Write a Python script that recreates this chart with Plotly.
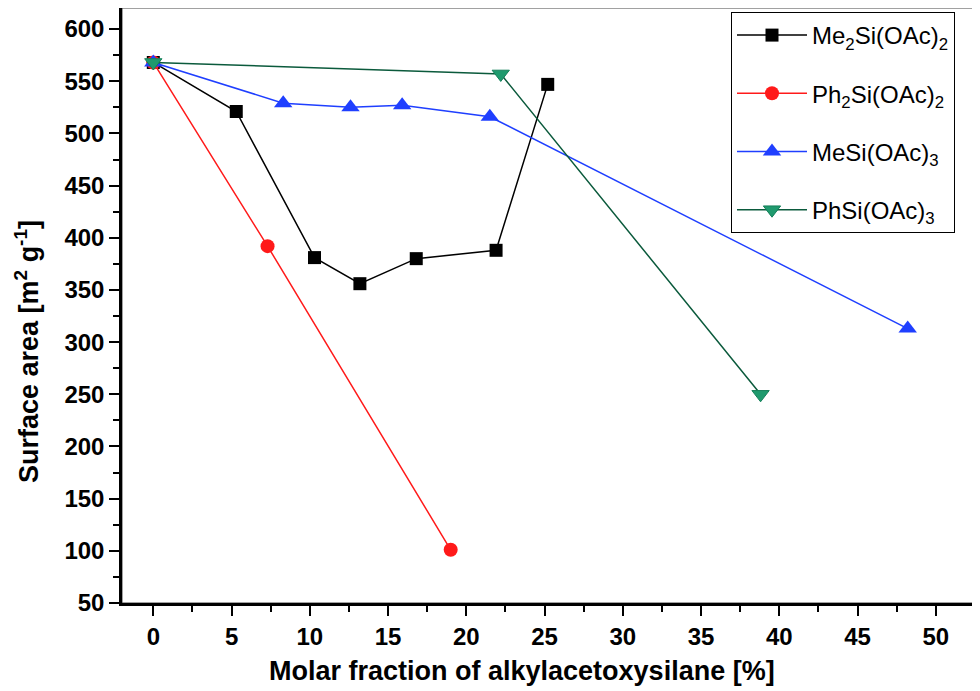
import plotly.graph_objects as go

# Surface area vs. molar fraction of alkylacetoxysilane
me2_x = [0, 5.3, 10.3, 13.2, 16.8, 21.9, 25.2]
me2_y = [568, 521, 381, 356, 380, 388, 547]

ph2_x = [0, 7.3, 19.0]
ph2_y = [568, 392, 101]

mesi_x = [0, 8.3, 12.6, 15.9, 21.5, 48.2]
mesi_y = [568, 529, 525, 527, 516, 313]

phsi_x = [0, 22.2, 38.8]
phsi_y = [568, 557, 250]

names = ["Me<sub>2</sub>Si(OAc)<sub>2</sub>", "Ph<sub>2</sub>Si(OAc)<sub>2</sub>",
         "MeSi(OAc)<sub>3</sub>", "PhSi(OAc)<sub>3</sub>"]

FONT = "Liberation Sans, Arial, sans-serif"

# the page body adds an 8px offset, so the figure is a bit smaller than the window
W, H = 972, 683
L, R, T, B = 114, 5, 0, 88
PW, PH = W - L - R, H - T - B

fig = go.Figure()

fig.add_trace(go.Scatter(
    x=me2_x, y=me2_y, name=names[0], mode="lines+markers", legendgroup="a",
    line=dict(color="black", width=1.5),
    marker=dict(symbol="square", size=13, color="black")))
fig.add_trace(go.Scatter(
    x=ph2_x, y=ph2_y, name=names[1], mode="lines+markers", legendgroup="b",
    line=dict(color="#ff1a1a", width=1.5),
    marker=dict(symbol="circle", size=14, color="#ff1a1a")))
fig.add_trace(go.Scatter(
    x=mesi_x, y=mesi_y, name=names[2], mode="lines+markers", legendgroup="c",
    line=dict(color="#1f3fff", width=1.5),
    marker=dict(symbol="triangle-up", size=16, color="#1f3fff")))
fig.add_trace(go.Scatter(
    x=phsi_x, y=phsi_y, name=names[3], mode="lines+markers", legendgroup="d",
    line=dict(color="#0b5a3c", width=1.5),
    marker=dict(symbol="triangle-down", size=15, color="#1f9a6e",
                line=dict(color="#15805a", width=1))))

axis_common = dict(
    showgrid=False, zeroline=False, showline=True, linecolor="black", linewidth=2.5,
    ticks="outside", ticklen=10, tickwidth=2, tickcolor="black",
    tickfont=dict(family=FONT, size=24, color="black", weight="bold"),
)

fig.update_xaxes(range=[-2, 52.5], dtick=5, tick0=0,
                 minor=dict(dtick=2.5, ticks="outside", ticklen=6, tickwidth=2, tickcolor="black"),
                 **axis_common)
fig.update_yaxes(range=[50, 620.2], dtick=50, tick0=50,
                 minor=dict(dtick=25, ticks="outside", ticklen=6, tickwidth=2, tickcolor="black"),
                 **axis_common)

fig.update_layout(
    width=W, height=H,
    margin=dict(l=L, r=R, t=T, b=B),
    plot_bgcolor="white", paper_bgcolor="white",
    font=dict(family=FONT, color="black"),
    legend=dict(
        x=(947 - L) / PW, y=1 - 4 / PH, xanchor="right", yanchor="top",
        bgcolor="white", bordercolor="black", borderwidth=1,
        font=dict(family=FONT, size=24, color="black"),
        tracegroupgap=24, itemwidth=70,
    ),
    shapes=[dict(type="rect", xref="paper", yref="paper", x0=0, x1=1, y0=0, y1=1,
                 line=dict(color="#444", width=1), layer="below")],
    annotations=[
        dict(text="<b>Molar fraction of alkylacetoxysilane [%]</b>",
             xref="paper", yref="paper", x=(514 - L) / PW, y=-(663 - PH) / PH,
             xanchor="center", yanchor="middle", showarrow=False,
             font=dict(family=FONT, size=27, color="black")),
        dict(text="<b>Surface area [m<sup>2</sup> g<sup>-1</sup>]</b>",
             xref="paper", yref="paper", x=-(L - 19) / PW, y=1 - 344 / PH,
             xanchor="center", yanchor="middle", textangle=-90, showarrow=False,
             font=dict(family=FONT, size=27, color="black")),
    ],
)

fig.write_html("out.html")
